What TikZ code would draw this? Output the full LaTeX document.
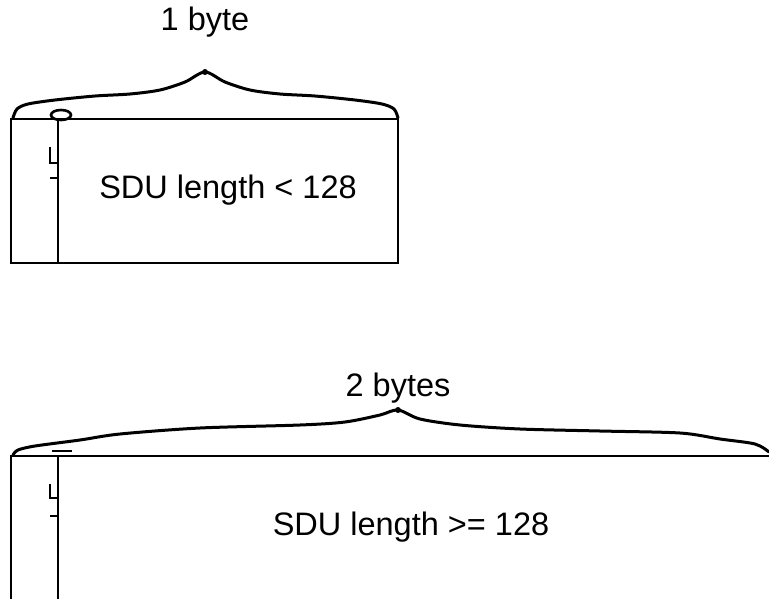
\documentclass[tikz,border=0pt]{standalone}
\usepackage{fontspec}
\setmainfont{Liberation Sans}
\usepackage{tikz}

\begin{document}
\begin{tikzpicture}[x=1pt, y=-1pt, line width=2.6pt,
    lbl/.style={font=\fontsize{32.5}{38}\selectfont, inner sep=0pt},
    brace/.style={line width=3pt, line join=round, line cap=round}]

    \useasboundingbox (0,0) rectangle (769,598);
    \clip (0,0) rectangle (769,598);

    % 1. Upper field: one length byte
    \draw (11,119) rectangle (398,263);
    \draw (58,119) -- (58,263);
    \draw[brace] plot[smooth] coordinates {(13,118) (17,109) (28,104) (55,100) (95,96) (130,94) (160,90) (185,82) (205,72)
        (225,82) (250,90) (280,94) (315,96) (355,100) (382,104) (394,109) (398,118)};
    \fill (205,72) circle (3);
    \draw (61,115) ellipse (10 and 5);
    \draw (50,147) -- (50,163) -- (58,163);
    \draw (50,178) -- (58,178);
    \node[lbl] (bytea) at (205,22) {1 byte};
    \node[lbl] (sdua) at (228,190) {SDU length < 128};

    % 2. Lower field: two length bytes
    \draw (11,600) -- (11,456) -- (775,456);
    \draw (58,456) -- (58,600);
    \draw[brace] plot[smooth] coordinates {(13,455) (18,450) (35,446) (80,440) (120,434) (200,428) (300,425) (345,422) (380,415) (398,410)
        (420,419) (460,425) (520,429) (600,431) (680,433) (720,439) (755,444) (769,452)};
    \fill (398,410) circle (3);
    \draw (52,451) -- (72,451);
    \draw (50,484) -- (50,498) -- (58,498);
    \draw (50,516) -- (58,516);
    \node[lbl] (byteb) at (398,388) {2 bytes};
    \node[lbl] (sdub) at (411,527) {SDU length >= 128};

\end{tikzpicture}
\end{document}
